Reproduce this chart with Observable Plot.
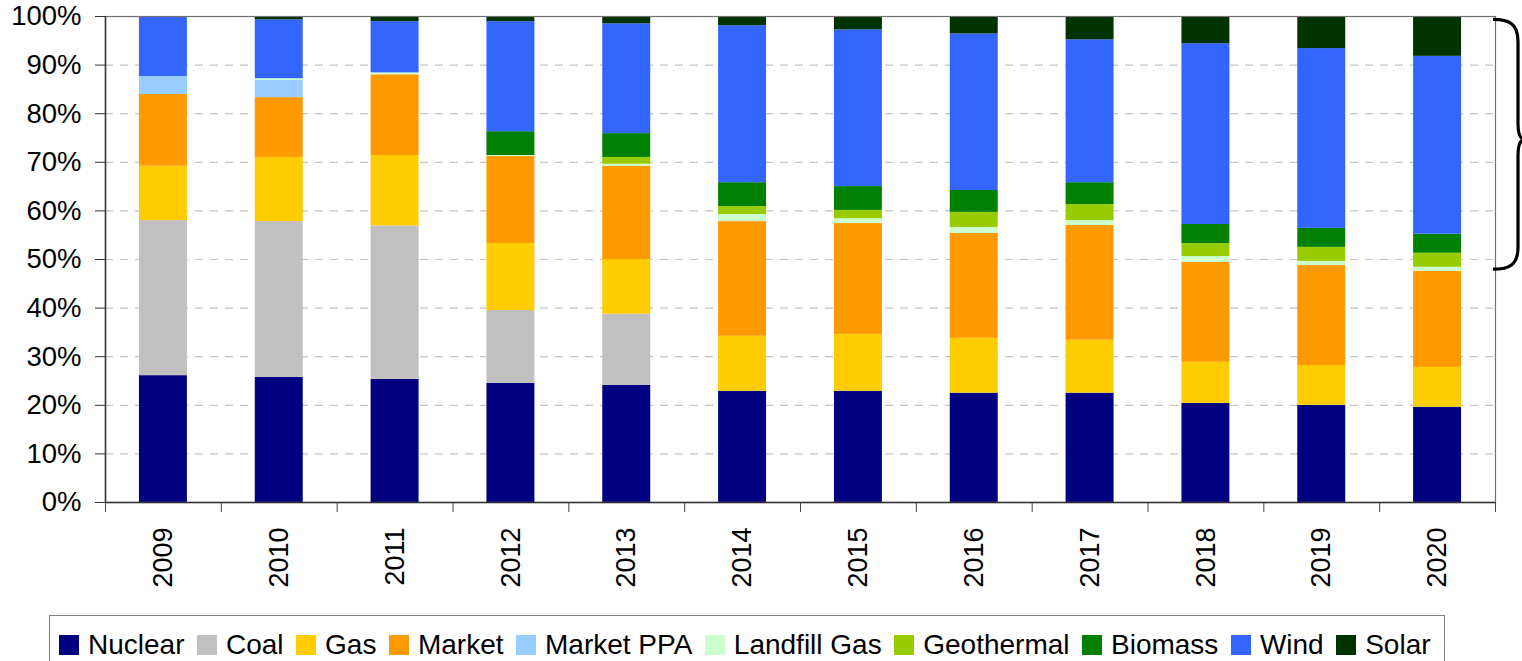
<!DOCTYPE html>
<html>
<head>
<meta charset="utf-8">
<script src="https://cdn.jsdelivr.net/npm/d3@7"></script>
<script src="https://cdn.jsdelivr.net/npm/@observablehq/plot@0.6"></script>
<style>
  html, body { margin: 0; padding: 0; background: #fff; }
  body { width: 1522px; height: 661px; overflow: hidden; font-family: "Liberation Sans", Arial, sans-serif; }
  #chart svg { display: block; }
  #legend {
    box-sizing: border-box;
    margin-left: 49px; margin-top: 3px;
    width: 1396px; height: 60px;
    border: 1px solid #808080; border-bottom: none;
    padding: 15px 0 0 9px;
    display: flex; flex-wrap: nowrap; align-items: flex-start;
    font-size: 28px; color: #000; line-height: 1;
  }
  .item { display: flex; align-items: center; margin-right: 12.5px; white-space: nowrap; }
  .sw { width: 20px; height: 20px; margin-right: 9px; flex: none; }
</style>
</head>
<body>
<div id="chart"></div>
<div id="legend"></div>
<script>
// ---- Data (percent of energy mix) ----
const years = ["2009","2010","2011","2012","2013","2014","2015","2016","2017","2018","2019","2020"];
const sources = ["Nuclear","Coal","Gas","Market","Market PPA","Landfill Gas","Geothermal","Biomass","Wind","Solar"];
const colors = ["#000080","#C0C0C0","#FFCC00","#FF9900","#99CCFF","#CCFFCC","#99CC00","#008000","#3366FF","#003300"];

const nuclear     = [26.1, 25.75, 25.35, 24.5, 24.1, 22.9, 22.9, 22.5, 22.5, 20.4, 20.0, 19.6];
const coal        = [31.9, 32.05, 31.55, 15.0, 14.65, 0, 0, 0, 0, 0, 0, 0];
const gas         = [11.2, 13.2, 14.5, 13.8, 11.25, 11.3, 11.7, 11.3, 10.9, 8.45, 8.2, 8.2];
const market      = [14.75, 12.3, 16.6, 17.9, 19.2, 23.6, 22.8, 21.55, 23.6, 20.55, 20.55, 19.75];
const marketPPA   = [3.7, 3.55, 0, 0, 0, 0, 0, 0, 0, 0, 0, 0];
const landfillGas = [0, 0.35, 0.4, 0.2, 0.4, 1.45, 1.0, 1.25, 1.0, 1.2, 0.85, 0.85];
const geothermal  = [0, 0, 0, 0, 1.4, 1.65, 1.7, 3.1, 3.3, 2.7, 2.9, 2.9];
const biomass     = [0, 0, 0, 4.9, 4.9, 4.9, 4.9, 4.5, 4.5, 3.9, 3.9, 3.9];
const wind        = [12.35, 12.1, 10.55, 22.65, 22.6, 32.3, 32.25, 32.2, 29.4, 37.2, 37.0, 36.6];
const solar       = [0, 0.7, 1.05, 1.05, 1.5, 1.9, 2.75, 3.6, 4.8, 5.6, 6.6, 8.2];

const yTicks = [0, 10, 20, 30, 40, 50, 60, 70, 80, 90, 100];
// bracket annotation span (percent values on the y axis): top, cusp, bottom
const bracketSpan = [99.3, 74.6, 47.9];

const series = [nuclear, coal, gas, market, marketPPA, landfillGas, geothermal, biomass, wind, solar];
const table = [];
years.forEach((yr, i) => {
  sources.forEach((s, j) => {
    const v = series[j][i];
    if (v > 0) table.push({year: yr, source: s, value: v});
  });
});

const W = 1522, H = 612;
const mL = 105, mR = 27, mT = 16, mB = 110;
const step = (W - mL - mR) / years.length;

function brace(index, scales, values, dimensions) {
  const y = scales.y;
  const x0 = dimensions.width - dimensions.marginRight;
  const top = y(bracketSpan[0]), mid = y(bracketSpan[1]), bot = y(bracketSpan[2]);
  const xv = x0 + 23, xc = x0 + 30;
  const d = `M${x0 - 2},${top} C${x0 + 14},${top} ${xv},${top + 4} ${xv},${top + 22}` +
            ` V${mid - 16} C${xv},${mid - 5} ${xv + 3},${mid} ${xc},${mid}` +
            ` C${xv + 3},${mid} ${xv},${mid + 5} ${xv},${mid + 16}` +
            ` V${bot - 22} C${xv},${bot - 4} ${x0 + 14},${bot} ${x0 - 2},${bot}`;
  return d3.create("svg:path")
    .attr("d", d).attr("fill", "none").attr("stroke", "#000")
    .attr("stroke-width", 3.2).attr("stroke-linecap", "butt").node();
}

const chart = Plot.plot({
  width: W, height: H,
  marginLeft: mL, marginRight: mR, marginTop: mT, marginBottom: mB,
  style: {fontFamily: "'Liberation Sans', Arial, sans-serif", background: "#fff", color: "#000", overflow: "visible"},
  x: {domain: years, paddingInner: 0.586, paddingOuter: 0.293, round: false, label: null},
  y: {domain: [0, 100], label: null},
  color: {domain: sources, range: colors},
  marks: [
    Plot.gridY(yTicks.filter(d => d > 0 && d < 100), {stroke: "#c4c4c4", strokeOpacity: 1, strokeDasharray: "8,7", strokeWidth: 1.2}),
    Plot.barY(table, {x: "year", y: "value", fill: "source", order: sources}),
    Plot.frame({stroke: "#707070", strokeWidth: 1.2}),
    Plot.ruleX([0], {x: () => years[0], dx: -step / 2, stroke: "#333", strokeWidth: 1.5}),
    Plot.ruleY([0], {stroke: "#333", strokeWidth: 1.5}),
    Plot.axisY({ticks: yTicks, tickFormat: d => d + "%", tickSize: 10, tickPadding: 14, fontSize: 27.5, stroke: "#333", fill: "#000"}),
    Plot.axisX({ticks: years, tickSize: 10, tickFormat: () => "", dx: -step / 2, stroke: "#444"}),
    Plot.axisX({ticks: [years[years.length - 1]], tickSize: 10, tickFormat: () => "", dx: step / 2, stroke: "#444"}),
    Plot.axisX({ticks: years, tickSize: 0, tickRotate: -90, tickPadding: 25, fontSize: 27, fill: "#000"}),
    brace
  ]
});
document.getElementById("chart").appendChild(chart);

const legend = d3.select("#legend");
sources.forEach((s, i) => {
  const it = legend.append("div").attr("class", "item");
  it.append("div").attr("class", "sw").style("background", colors[i]);
  it.append("span").text(s);
});
</script>
</body>
</html>
